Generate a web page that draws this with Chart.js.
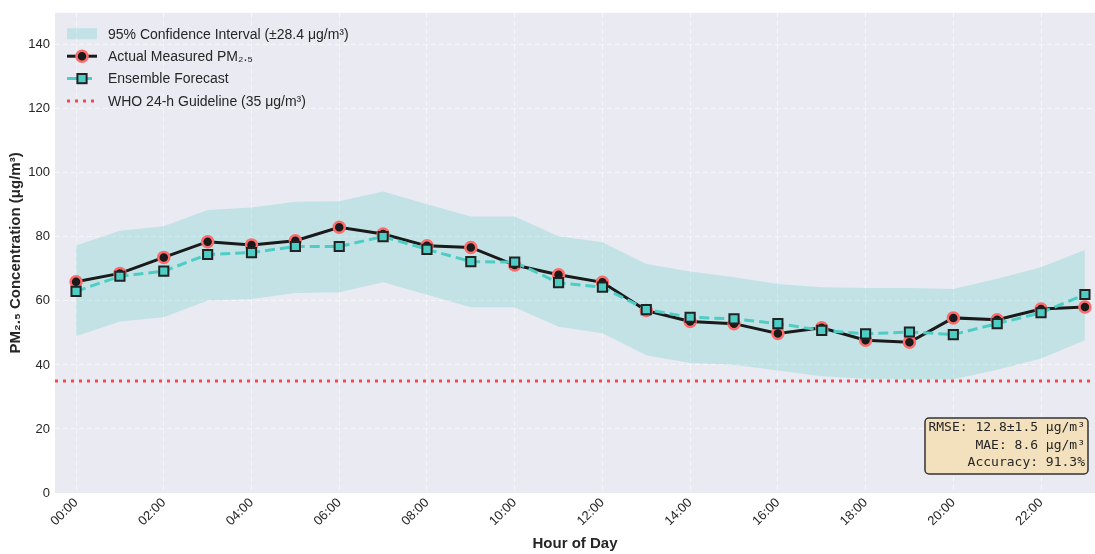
<!DOCTYPE html>
<html>
<head>
<meta charset="utf-8">
<script src="https://cdn.jsdelivr.net/npm/chart.js@4.4.1/dist/chart.umd.min.js"></script>
<style>
  html, body { margin: 0; padding: 0; background: #fff; overflow: hidden; }
  #wrap { width: 1095px; height: 554px; }
  canvas { display: block; }
</style>
</head>
<body>
<div id="wrap"><canvas id="pmChart" width="1095" height="554"></canvas></div>
<script>
// hourly values
const hours = [0, 1, 2, 3, 4, 5, 6, 7, 8, 9, 10, 11, 12, 13, 14, 15, 16, 17, 18, 19, 20, 21, 22, 23];
const actualPM = [66.0, 68.6, 73.6, 78.5, 77.5, 78.8, 83.0, 80.9, 77.2, 76.7, 71.2, 68.2,
                  65.8, 57.0, 53.6, 52.9, 49.8, 51.6, 47.7, 47.1, 54.7, 54.1, 57.5, 58.1];
const forecastPM = [63.0, 67.7, 69.3, 74.5, 75.1, 77.0, 77.0, 80.1, 76.1, 72.3, 72.1, 65.7,
                    64.3, 57.3, 54.9, 54.4, 52.9, 50.8, 49.7, 50.3, 49.5, 52.9, 56.3, 62.0];
const ciUpper = [77.3, 81.9, 83.3, 88.4, 89.2, 91.0, 91.1, 94.2, 90.2, 86.4, 86.4, 80.2,
                 78.3, 71.5, 69.2, 67.4, 65.3, 64.3, 64.0, 64.0, 63.7, 66.9, 70.5, 75.9];
const ciLower = [49.0, 53.6, 54.9, 60.1, 60.6, 62.5, 62.7, 65.8, 61.9, 58.0, 58.0, 51.9,
                 49.9, 43.0, 40.6, 40.1, 38.3, 36.5, 35.7, 35.5, 35.5, 38.5, 42.0, 47.7];
const whoGuideline = 35;
const tickHours = [0, 2, 4, 6, 8, 10, 12, 14, 16, 18, 20, 22];
const tickLabels = ['00:00', '02:00', '04:00', '06:00', '08:00', '10:00',
                    '12:00', '14:00', '16:00', '18:00', '20:00', '22:00'];
const yTicks = [0, 20, 40, 60, 80, 100, 120, 140];
const statsLines = ['RMSE: 12.8±1.5 μg/m³', 'MAE: 8.6 μg/m³', 'Accuracy: 91.3%'];

const X_MIN = -0.48, X_MAX = 23.23;
const TEAL = '#4ECDC4';
const CI_FILL = 'rgba(78,205,196,0.25)';
const TXT = '#262626';
const GRID = 'rgba(255,255,255,0.55)';
const SANS = '"Liberation Sans", Arial, sans-serif';

function pts(ys) { return hours.map((h, i) => ({ x: h, y: ys[i] })); }

// plot area runs to the right edge of the canvas, like the original
const fullWidthPlugin = {
    id: 'fullWidth',
    afterLayout(chart) {
        const a = chart.chartArea, x = chart.scales.x;
        a.right = chart.width;
        a.width = a.right - a.left;
        x.right = chart.width;
        x.width = x.right - x.left;
        x.configure();
    }
};

const bgPlugin = {
    id: 'bg',
    beforeDraw(chart) {
        const { ctx, chartArea: a } = chart;
        ctx.save();
        ctx.fillStyle = '#fff';
        ctx.fillRect(0, 0, chart.width, chart.height);
        ctx.fillStyle = '#EAEAF2';
        ctx.fillRect(a.left, a.top, a.right - a.left, a.bottom - a.top);
        ctx.restore();
    }
};

const legendPlugin = {
    id: 'sketchLegend',
    afterDraw(chart) {
        const { ctx, chartArea: a } = chart;
        const x0 = a.left + 12, x1 = x0 + 30, xm = (x0 + x1) / 2, tx = a.left + 53;
        const y0 = a.top + 21, dy = 22.4;
        const labels = [
            '95% Confidence Interval (±28.4 μg/m³)',
            'Actual Measured PM₂.₅',
            'Ensemble Forecast',
            'WHO 24-h Guideline (35 μg/m³)'
        ];
        ctx.save();
        // CI patch
        ctx.fillStyle = CI_FILL;
        ctx.fillRect(x0, y0 - 5.5, 30, 11);
        // actual
        let y = y0 + dy;
        ctx.strokeStyle = '#1a1a1a'; ctx.lineWidth = 3;
        ctx.beginPath(); ctx.moveTo(x0, y); ctx.lineTo(x1, y); ctx.stroke();
        ctx.beginPath(); ctx.arc(xm, y, 5.5, 0, Math.PI * 2);
        ctx.fillStyle = '#1a1a1a'; ctx.fill();
        ctx.strokeStyle = '#FF6B6B'; ctx.lineWidth = 2.5; ctx.stroke();
        // forecast
        y = y0 + dy * 2;
        ctx.strokeStyle = TEAL; ctx.lineWidth = 3; ctx.setLineDash([10, 5]);
        ctx.beginPath(); ctx.moveTo(x0, y); ctx.lineTo(x1, y); ctx.stroke();
        ctx.setLineDash([]);
        ctx.fillStyle = TEAL; ctx.fillRect(xm - 4.6, y - 4.6, 9.2, 9.2);
        ctx.strokeStyle = '#222'; ctx.lineWidth = 2; ctx.strokeRect(xm - 4.6, y - 4.6, 9.2, 9.2);
        // WHO
        y = y0 + dy * 3;
        ctx.strokeStyle = '#FF4444'; ctx.lineWidth = 3; ctx.setLineDash([3, 5]);
        ctx.beginPath(); ctx.moveTo(x0, y); ctx.lineTo(x1, y); ctx.stroke();
        ctx.setLineDash([]);
        // texts
        ctx.fillStyle = TXT;
        ctx.font = '14px ' + SANS;
        ctx.textBaseline = 'middle';
        labels.forEach((t, i) => ctx.fillText(t, tx, y0 + dy * i + 1));
        ctx.restore();
    }
};

const statsPlugin = {
    id: 'statsBox',
    afterDraw(chart) {
        const { ctx, chartArea: a } = chart;
        const right = a.right - 7, bottom = a.bottom - 19;
        const w = 163, h = 56, left = right - w, top = bottom - h;
        ctx.save();
        ctx.beginPath();
        ctx.roundRect(left, top, w, h, 4);
        ctx.fillStyle = 'rgba(245,222,179,0.85)';
        ctx.fill();
        ctx.strokeStyle = '#333'; ctx.lineWidth = 1.5;
        ctx.stroke();
        ctx.fillStyle = TXT;
        ctx.font = '13px "DejaVu Sans Mono", monospace';
        ctx.textAlign = 'right';
        ctx.textBaseline = 'middle';
        statsLines.forEach((t, i) => ctx.fillText(t, right - 3, top + 10 + i * 17.5));
        ctx.restore();
    }
};

new Chart(document.getElementById('pmChart').getContext('2d'), {
    type: 'line',
    data: {
        datasets: [
            {
                label: 'CI upper',
                data: pts(ciUpper),
                borderWidth: 0, borderColor: 'rgba(0,0,0,0)',
                pointRadius: 0, fill: '+1', backgroundColor: CI_FILL,
                order: 4
            },
            {
                label: 'CI lower',
                data: pts(ciLower),
                borderWidth: 0, borderColor: 'rgba(0,0,0,0)',
                pointRadius: 0, fill: false,
                order: 5
            },
            {
                label: 'WHO 24-h Guideline (35 μg/m³)',
                data: [{ x: X_MIN, y: whoGuideline }, { x: X_MAX, y: whoGuideline }],
                borderColor: '#FF4444', borderWidth: 3, borderDash: [3, 5],
                borderCapStyle: 'butt', pointRadius: 0, fill: false,
                order: 3
            },
            {
                label: 'Actual Measured PM₂.₅',
                data: pts(actualPM),
                borderColor: '#1a1a1a', borderWidth: 3,
                pointRadius: 5.5, pointBackgroundColor: '#1a1a1a',
                pointBorderColor: '#FF6B6B', pointBorderWidth: 2.5,
                tension: 0, fill: false,
                order: 1
            },
            {
                label: 'Ensemble Forecast',
                data: pts(forecastPM),
                borderColor: TEAL, borderWidth: 3, borderDash: [10, 5],
                pointStyle: 'rect', pointRadius: 6.5, pointBackgroundColor: TEAL,
                pointBorderColor: '#222', pointBorderWidth: 2,
                tension: 0, fill: false,
                order: 0
            }
        ]
    },
    options: {
        responsive: false,
        animation: false,
        layout: { padding: { top: 12, right: 0, left: 0, bottom: 0 } },
        plugins: { legend: { display: false }, tooltip: { enabled: false } },
        scales: {
            x: {
                type: 'linear',
                min: X_MIN, max: X_MAX,
                afterBuildTicks(scale) { scale.ticks = tickHours.map(v => ({ value: v })); },
                afterFit(scale) { scale.height = 61; },
                ticks: {
                    color: TXT, font: { family: SANS, size: 13 },
                    maxRotation: 45, minRotation: 45, padding: 2,
                    callback: (v) => tickLabels[tickHours.indexOf(v)]
                },
                grid: { color: GRID, lineWidth: 1, drawTicks: false },
                border: { display: false, dash: [5, 3] },
                title: {
                    display: true, text: 'Hour of Day', color: TXT,
                    font: { family: SANS, size: 15, weight: 'bold' },
                    padding: { top: 0, bottom: 1 }
                }
            },
            y: {
                min: 0, max: 150,
                afterBuildTicks(scale) { scale.ticks = yTicks.map(v => ({ value: v })); },
                afterFit(scale) { scale.width = 55; },
                ticks: { color: TXT, font: { family: SANS, size: 13 }, padding: 5 },
                grid: { color: GRID, lineWidth: 1, drawTicks: false },
                border: { display: false, dash: [5, 3] },
                title: {
                    display: true, text: 'PM₂.₅ Concentration (μg/m³)', color: TXT,
                    font: { family: SANS, size: 15, weight: 'bold' },
                    padding: { top: 7, bottom: 0 }
                }
            }
        }
    },
    plugins: [fullWidthPlugin, bgPlugin, legendPlugin, statsPlugin]
});
</script>
</body>
</html>
